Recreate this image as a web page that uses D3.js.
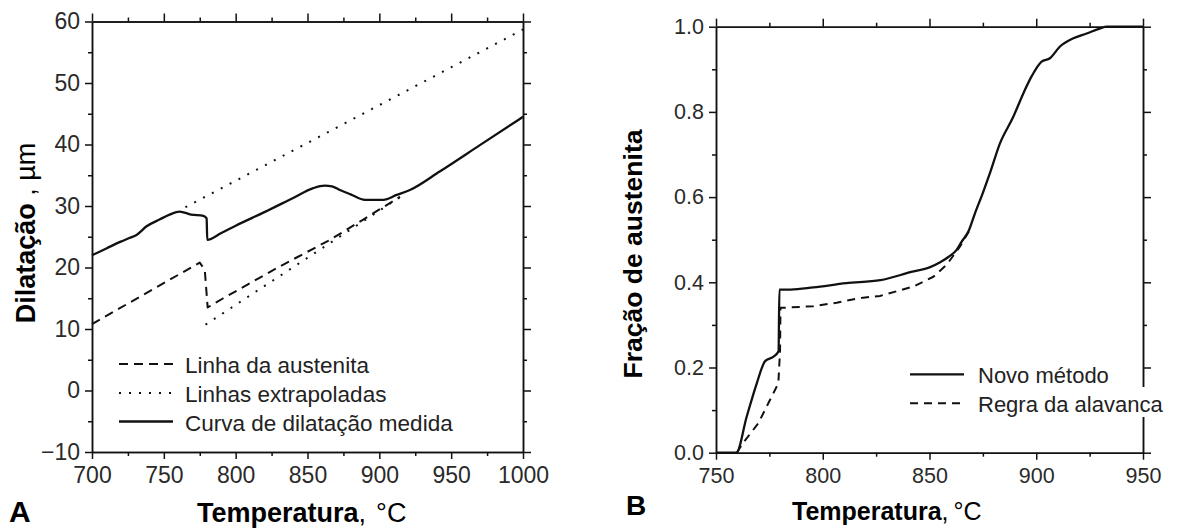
<!DOCTYPE html>
<html>
<head>
<meta charset="utf-8">
<script src="https://cdn.jsdelivr.net/npm/d3@7"></script>
<style>
  body { margin: 0; background: #fff; }
  text { font-family: "Liberation Sans", Arial, sans-serif; }
</style>
</head>
<body>
<div id="chart"></div>
<script>
// ---- Panel A : dilatacao x temperatura ----
var aCurveT = [700, 710, 720, 726, 731, 738, 747, 754, 761, 769, 777.5, 779.8, 780.2, 790, 800, 820, 840, 854, 862, 867, 872.6, 880, 890, 902.8, 912, 921.3, 942, 970, 1000];
var aCurveV = [22.0, 23.1, 24.2, 24.8, 25.3, 26.7, 27.8, 28.6, 29.1, 28.6, 28.4, 28.0, 24.5, 25.6, 26.8, 29.0, 31.3, 32.9, 33.3, 33.2, 32.6, 31.9, 31.0, 31.0, 31.8, 32.6, 35.6, 39.9, 44.5];
var aAustT = [700, 775, 778.5, 780.5, 791.4, 830.9, 865.7, 888.8, 914.4];
var aAustV = [10.8, 20.8, 19.6, 13.5, 15.0, 20.2, 24.5, 27.8, 31.5];
var aExtUpT = [765, 1000];
var aExtUpV = [29.8, 58.7];
var aExtLoT = [779, 918];
var aExtLoV = [10.7, 32.0];

var aXTicks = [700, 750, 800, 850, 900, 950, 1000];
var aXMinor = [725, 775, 825, 875, 925, 975];
var aYTicks = [-10, 0, 10, 20, 30, 40, 50, 60];
var aYMinor = [-5, 5, 15, 25, 35, 45, 55];
var aLegend = ["Linha da austenita", "Linhas extrapoladas", "Curva de dilatação medida"];

// ---- Panel B : fracao de austenita ----
var bNovoT = [750, 759.5, 764.4, 769.1, 773, 776.8, 779.3, 779.7, 785, 795.6, 811, 827, 842, 850, 855, 859, 862.7, 865, 868.2, 871.3, 875, 878.3, 883, 889.3, 894, 898, 902.5, 906.4, 911, 917.4, 923.6, 930, 933, 950];
var bNovoF = [0, 0, 0.085, 0.163, 0.215, 0.225, 0.238, 0.383, 0.383, 0.388, 0.398, 0.405, 0.425, 0.435, 0.447, 0.46, 0.476, 0.495, 0.519, 0.562, 0.61, 0.656, 0.726, 0.789, 0.844, 0.885, 0.918, 0.926, 0.953, 0.973, 0.984, 0.996, 1.0, 1.0];
var bAlavT = [759.7, 763, 769.8, 774.5, 779.2, 780, 780.2, 784.7, 795.6, 806.5, 811.2, 819, 826.8, 842.4, 851.8, 858, 864.3, 868.5];
var bAlavF = [0, 0.025, 0.069, 0.116, 0.163, 0.24, 0.34, 0.341, 0.344, 0.352, 0.357, 0.364, 0.368, 0.39, 0.413, 0.441, 0.484, 0.52];

var bXTicks = [750, 800, 850, 900, 950];
var bXMinor = [775, 825, 875, 925];
var bYTicks = [0, 0.2, 0.4, 0.6, 0.8, 1.0];
var bYMinor = [0.1, 0.3, 0.5, 0.7, 0.9];
var bLegend = ["Novo método", "Regra da alavanca"];

var w = 1178, h = 532;
var ink = "#111";

var svg = d3.select("#chart")
    .append("svg")
    .attr("width", w)
    .attr("height", h);

// draws the four framed axes of one panel
function drawAxes(x, y, xTicks, xMinor, yTicks, yMinor, fs, yFmt) {
  var x0 = x.range()[0], x1 = x.range()[1];
  var y0 = y.range()[0], y1 = y.range()[1];
  var g = svg.append("g");

  function put(axis, tx, ty) {
    var a = g.append("g").attr("transform", "translate(" + tx + "," + ty + ")").call(axis);
    a.select(".domain").attr("stroke", ink).attr("stroke-width", 1.5);
    a.selectAll(".tick line").attr("stroke", ink).attr("stroke-width", 1.5);
    return a;
  }

  put(d3.axisBottom(x).tickValues(xMinor).tickSize(4).tickSizeOuter(0).tickFormat(""), 0, y0);
  var bx = put(d3.axisBottom(x).tickValues(xTicks).tickSize(7).tickSizeOuter(0).tickPadding(8).tickFormat(d3.format("d")), 0, y0);
  put(d3.axisTop(x).tickValues(xMinor).tickSize(4).tickSizeOuter(0).tickFormat(""), 0, y1);
  put(d3.axisTop(x).tickValues(xTicks).tickSize(8).tickSizeOuter(0).tickFormat(""), 0, y1);

  put(d3.axisLeft(y).tickValues(yMinor).tickSize(4).tickSizeOuter(0).tickFormat(""), x0, 0);
  var ly = put(d3.axisLeft(y).tickValues(yTicks).tickSize(7).tickSizeOuter(0).tickPadding(5).tickFormat(yFmt), x0, 0);
  put(d3.axisRight(y).tickValues(yMinor).tickSize(4).tickSizeOuter(0).tickFormat(""), x1, 0);
  put(d3.axisRight(y).tickValues(yTicks).tickSize(8).tickSizeOuter(0).tickFormat(""), x1, 0);

  [bx, ly].forEach(function(a) {
    a.selectAll("text")
      .attr("font-family", "Liberation Sans, Arial, sans-serif")
      .attr("font-size", fs)
      .attr("fill", "#2a2a2a");
  });
}

function addLine(x, y, T, V, dash, sw, smooth) {
  var line = d3.line()
    .x(function(d) { return x(d[0]); })
    .y(function(d) { return y(d[1]); })
    .curve(smooth ? d3.curveMonotoneX : d3.curveLinear);
  svg.append("path")
    .datum(d3.zip(T, V))
    .attr("d", line)
    .attr("fill", "none")
    .attr("stroke", ink)
    .attr("stroke-width", sw)
    .attr("stroke-linejoin", "round")
    .attr("stroke-dasharray", dash);
}

function legendRow(lx, ly, tx, label, dash, sw, fs) {
  svg.append("line")
    .attr("x1", lx).attr("x2", lx + 54)
    .attr("y1", ly).attr("y2", ly)
    .attr("stroke", ink).attr("stroke-width", sw)
    .attr("stroke-dasharray", dash);
  svg.append("text")
    .attr("x", tx).attr("y", ly + 9)
    .attr("font-size", fs)
    .attr("fill", "#222")
    .text(label);
}

// ---------- Panel A ----------
var ax = d3.scaleLinear().domain([700, 1000]).range([92, 523]);
var ay = d3.scaleLinear().domain([-10, 60]).range([452, 21.5]);

drawAxes(ax, ay, aXTicks, aXMinor, aYTicks, aYMinor, 23, d3.format("d"));

addLine(ax, ay, aExtUpT, aExtUpV, "2,8", 2, false);
addLine(ax, ay, aExtLoT, aExtLoV, "2,8", 2, false);
addLine(ax, ay, aAustT, aAustV, "9,6", 2, false);
addLine(ax, ay, aCurveT, aCurveV, null, 2.3, true);

legendRow(119, 364, 185, aLegend[0], "9,6", 2, 22.5);
legendRow(119, 393, 185, aLegend[1], "2,8", 2, 22.5);
legendRow(119, 421.5, 185, aLegend[2], null, 2.3, 22.5);

var axT = svg.append("text").attr("x", 197).attr("y", 521.5).attr("font-size", 27).attr("fill", "#000");
axT.append("tspan").attr("font-weight", "bold").text("Temperatura");
axT.append("tspan").text(",");
axT.append("tspan").attr("dx", 10).text("°C");

var ayT = svg.append("text")
    .attr("transform", "translate(35,233) rotate(-90)")
    .attr("text-anchor", "middle")
    .attr("font-size", 27).attr("fill", "#000");
ayT.append("tspan").attr("font-weight", "bold").text("Dilatação");
ayT.append("tspan").text(" , µm");

svg.append("text").attr("x", 9).attr("y", 521.5)
  .attr("font-size", 30).attr("font-weight", "bold").text("A");

// ---------- Panel B ----------
var bx = d3.scaleLinear().domain([750, 950]).range([716, 1143]);
var by = d3.scaleLinear().domain([0, 1]).range([452.7, 26.7]);

drawAxes(bx, by, bXTicks, bXMinor, bYTicks, bYMinor, 21.5, d3.format(".1f"));

addLine(bx, by, bAlavT, bAlavF, "8,6", 2, false);
addLine(bx, by, bNovoT, bNovoF, null, 2.3, true);

// legend background hides the right axis behind the text
svg.append("rect")
  .attr("x", 905).attr("y", 387).attr("width", 268).attr("height", 30)
  .attr("fill", "#fff");
legendRow(910, 374.3, 978, bLegend[0], null, 2.3, 22);
legendRow(910, 403.3, 978, bLegend[1], "8,6", 2, 22);

var bxT = svg.append("text").attr("x", 792).attr("y", 520).attr("font-size", 25).attr("fill", "#000");
bxT.append("tspan").attr("font-weight", "bold").text("Temperatura");
bxT.append("tspan").text(",");
bxT.append("tspan").attr("dx", 5).text("°C");

svg.append("text")
  .attr("transform", "translate(642,254) rotate(-90)")
  .attr("text-anchor", "middle")
  .attr("font-size", 26.5).attr("font-weight", "bold").attr("fill", "#000")
  .text("Fração de austenita");

svg.append("text").attr("x", 626).attr("y", 515)
  .attr("font-size", 28).attr("font-weight", "bold").text("B");
</script>
</body>
</html>
